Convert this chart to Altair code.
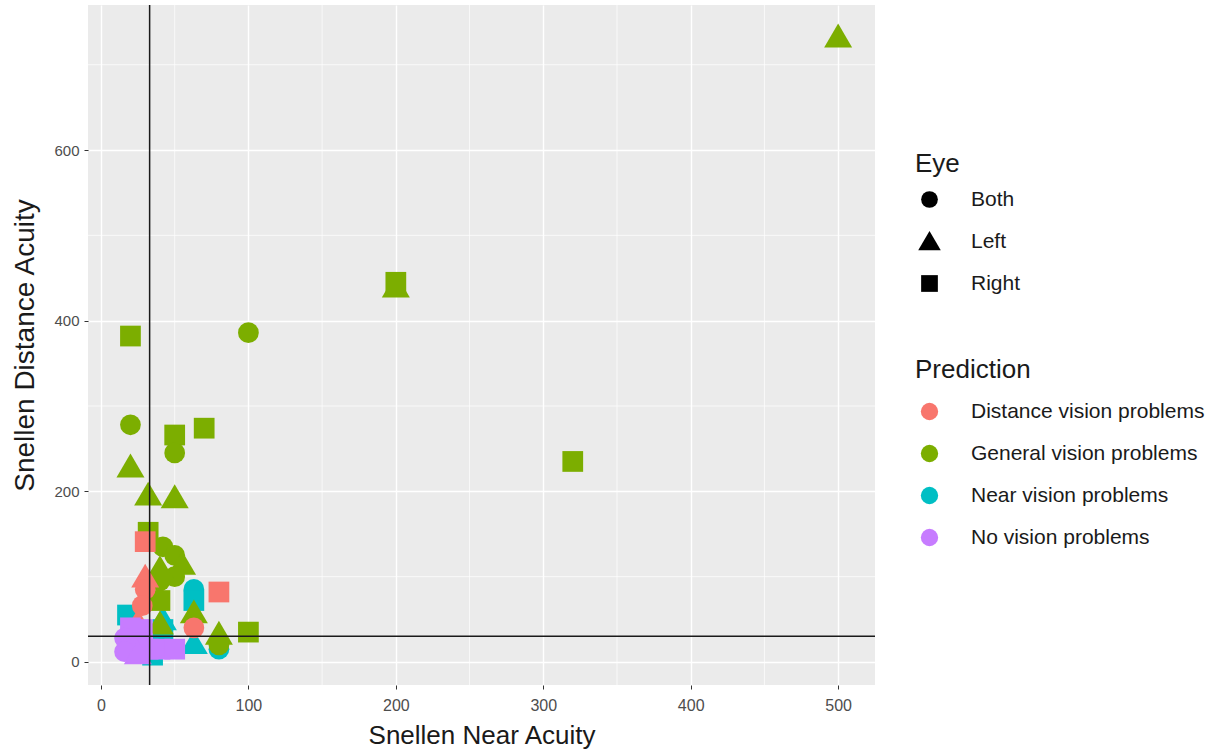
import altair as alt
import pandas as pd

# ---- data ----
near = [
    # Near vision problems (cyan)
    63, 63, 63, 80, 42, 42, 18, 35,
    # General vision problems (green)
    500, 200, 200, 100, 20, 320, 20, 70, 50, 50, 20, 32, 50, 32,
    42, 50, 55, 50, 40, 40, 40, 40, 63, 80, 80, 100,
    # Distance vision problems (red)
    30, 30, 30, 28, 25, 80, 63,
    # No vision problems (purple)
    20, 28, 16, 20, 28, 16, 32, 40, 50, 25,
]
dist = [
    85, 72, 22, 15, 50, 38, 55, 8,
    733, 440, 445, 386, 382, 235, 278, 274, 266, 245, 229, 196, 193, 152,
    135, 125, 115, 100, 95, 110, 72, 45, 58, 33, 20, 35,
    141, 100, 85, 66, 47, 82, 40,
    40, 38, 28, 20, 22, 12, 15, 15, 15, 10,
]
eye = [
    "Both", "Right", "Left", "Both", "Left", "Right", "Right", "Right",
    "Left", "Left", "Right", "Both", "Right", "Right", "Both", "Right", "Right", "Both",
    "Left", "Left", "Left", "Right",
    "Both", "Both", "Left", "Both", "Both", "Left", "Right", "Left", "Left", "Left", "Both", "Right",
    "Right", "Left", "Both", "Both", "Left", "Right", "Both",
    "Right", "Right", "Both", "Right", "Right", "Both", "Right", "Right", "Right", "Left",
]
pred = (
    ["Near vision problems"] * 8
    + ["General vision problems"] * 26
    + ["Distance vision problems"] * 7
    + ["No vision problems"] * 10
)

x_major = [0, 100, 200, 300, 400, 500]
x_minor = [50, 150, 250, 350, 450]
y_major = [0, 200, 400, 600]
y_minor = [100, 300, 500, 700]
ref_near = [33]
ref_dist = [30]

pred_domain = ["Distance vision problems", "General vision problems",
               "Near vision problems", "No vision problems"]
pred_colors = ["#F8766D", "#7CAE00", "#00BFC4", "#C77CFF"]
eye_domain = ["Both", "Left", "Right"]
# ggplot's filled triangle is larger than its circle and square
TRIANGLE = "M0,-1.25L1.35,1.05L-1.35,1.05Z"
eye_shapes = ["circle", TRIANGLE, "square"]

df = pd.DataFrame({"near": near, "dist": dist, "eye": eye, "pred": pred})
df["ord"] = range(len(df))

FONT = "Liberation Sans"
xs = alt.Scale(domain=[-8.8, 525], nice=False, zero=False)
ys = alt.Scale(domain=[-27, 770], nice=False, zero=False)

x_axis = alt.Axis(values=x_major, title="Snellen Near Acuity", grid=True)
y_axis = alt.Axis(values=y_major, title="Snellen Distance Acuity", grid=True)

minor_x = alt.Chart(pd.DataFrame({"near": x_minor})).mark_rule(
    color="white", strokeWidth=0.7
).encode(x=alt.X("near:Q", scale=xs, axis=x_axis))

minor_y = alt.Chart(pd.DataFrame({"dist": y_minor})).mark_rule(
    color="white", strokeWidth=0.7
).encode(y=alt.Y("dist:Q", scale=ys, axis=y_axis))

points = alt.Chart(df).mark_point(filled=True, opacity=1, strokeWidth=0, size=430).encode(
    x=alt.X("near:Q", scale=xs, axis=x_axis),
    y=alt.Y("dist:Q", scale=ys, axis=y_axis),
    shape=alt.Shape(
        "eye:N",
        scale=alt.Scale(domain=eye_domain, range=eye_shapes),
        legend=alt.Legend(
            title="Eye", orient="none", legendX=827, legendY=146,
            symbolFillColor="black", symbolStrokeColor="black", symbolStrokeWidth=0,
            symbolSize=280, symbolOffset=4, labelOffset=31, rowPadding=20,
            titlePadding=12, labelLimit=0,
        ),
    ),
    color=alt.Color(
        "pred:N",
        scale=alt.Scale(domain=pred_domain, range=pred_colors),
        legend=alt.Legend(
            title="Prediction", orient="none", legendX=827, legendY=352,
            symbolType="circle", symbolSize=300, symbolOpacity=1, symbolStrokeWidth=0,
            symbolOffset=4, labelOffset=31, rowPadding=20, titlePadding=18,
            labelLimit=0,
        ),
    ),
    order=alt.Order("ord:Q"),
)

vline = alt.Chart(pd.DataFrame({"near": ref_near})).mark_rule(
    color="#1a1a1a", strokeWidth=1.5
).encode(x=alt.X("near:Q", scale=xs, axis=x_axis))

hline = alt.Chart(pd.DataFrame({"dist": ref_dist})).mark_rule(
    color="#1a1a1a", strokeWidth=1.5
).encode(y=alt.Y("dist:Q", scale=ys, axis=y_axis))

chart = alt.layer(minor_x, minor_y, points, vline, hline).properties(
    width=787,
    height=680,
    autosize=alt.AutoSizeParams(type="none"),
    padding={"left": 88, "top": 5, "right": 348, "bottom": 70},
    background="white",
).configure_view(
    fill="#EBEBEB", stroke=None
).configure_axis(
    gridColor="white", gridWidth=1.4, domain=False,
    tickColor="#333333", tickSize=4, tickWidth=1,
    labelColor="#4D4D4D", labelFont=FONT,
    titleFont=FONT, titleFontWeight="normal", titleColor="#1a1a1a",
).configure_axisX(
    labelFontSize=16, labelPadding=8, titleFontSize=26, titlePadding=9
).configure_axisY(
    labelFontSize=15, labelPadding=5, titleFontSize=28, titlePadding=14
).configure_legend(
    titleFont=FONT, titleFontSize=26, titleFontWeight="normal", titleColor="#1a1a1a",
    labelFont=FONT, labelFontSize=21, labelColor="#1a1a1a", padding=0,
)

chart.save("out.html", embed_options={"renderer": "svg", "actions": False})
